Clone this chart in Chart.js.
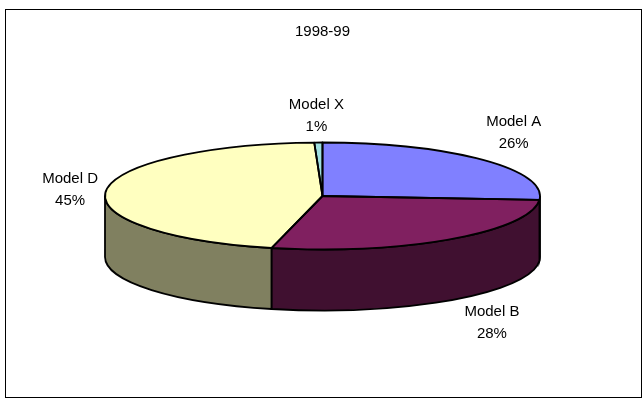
<!DOCTYPE html>
<html>
<head>
<meta charset="utf-8">
<title>1998-99</title>
<script src="https://cdn.jsdelivr.net/npm/chart.js@4"></script>
<style>
    html, body { margin: 0; padding: 0; background: #fff; }
    #box { width: 644px; height: 401px; }
</style>
</head>
<body>
<div id="box"><canvas id="pieChart" width="644" height="401"></canvas></div>
<script>
const titleText = '1998-99';
const categories = ['Model A', 'Model B', 'Model D', 'Model X'];
const shares = [26, 27.5, 45.4, 0.6];
const topColors = ['#8080FF', '#802060', '#FFFFC0', '#A0E0E0'];
const sideColors = ['#404080', '#401030', '#808060', '#507070'];
// label shift from the rim point at the middle of each slice
const labelShiftX = [32, 41, -36, -2];
const labelShiftY = [-27, 84, -1, -27];

const FONT = '15px "Liberation Sans", Arial, sans-serif';
const CENTER_Y = 196;
const SQUASH = 53.5 / 217.5;
const DEPTH = 61;

// maps a point of the flat pie to the tilted one
function tilt(ctx, arc) {
    ctx.translate(0, CENTER_Y);
    ctx.scale(1, SQUASH);
    ctx.translate(0, -arc.y);
}

function rimY(angle, r) {
    return CENTER_Y + Math.sin(angle) * r * SQUASH;
}

const tiltedPie = {
    id: 'tiltedPie',
    beforeDraw(chart) {
        const ctx = chart.ctx;
        ctx.save();
        ctx.strokeStyle = '#000';
        ctx.lineWidth = 1;
        ctx.strokeRect(5.5, 9.5, 636, 388);
        ctx.restore();
    },
    beforeDatasetsDraw(chart) {
        const ctx = chart.ctx;
        const arcs = chart.getDatasetMeta(0).data;
        ctx.save();
        ctx.lineWidth = 1.8;
        ctx.strokeStyle = '#000';
        arcs.forEach((arc, i) => {
            const from = Math.max(arc.startAngle, 0);
            const to = Math.min(arc.endAngle, Math.PI);
            if (to <= from) return;
            const r = arc.outerRadius;
            ctx.beginPath();
            ctx.save();
            tilt(ctx, arc);
            ctx.arc(arc.x, arc.y, r, from, to);
            ctx.restore();
            ctx.lineTo(arc.x + Math.cos(to) * r, rimY(to, r) + DEPTH);
            ctx.save();
            ctx.translate(0, DEPTH);
            tilt(ctx, arc);
            ctx.arc(arc.x, arc.y, r, to, from, true);
            ctx.restore();
            ctx.closePath();
            ctx.fillStyle = sideColors[i];
            ctx.fill();
            ctx.stroke();
        });
        ctx.restore();
        ctx.save();
        tilt(ctx, arcs[0]);
    },
    afterDatasetsDraw(chart) {
        const ctx = chart.ctx;
        const arcs = chart.getDatasetMeta(0).data;
        ctx.restore();

        ctx.save();
        ctx.lineWidth = 1.8;
        ctx.strokeStyle = '#000';
        ctx.lineJoin = 'round';
        arcs.forEach(arc => {
            ctx.beginPath();
            ctx.save();
            tilt(ctx, arc);
            ctx.moveTo(arc.x, arc.y);
            ctx.arc(arc.x, arc.y, arc.outerRadius, arc.startAngle, arc.endAngle);
            ctx.closePath();
            ctx.restore();
            ctx.stroke();
        });

        ctx.font = FONT;
        ctx.fillStyle = '#000';
        ctx.textAlign = 'center';
        ctx.textBaseline = 'middle';
        arcs.forEach((arc, i) => {
            const mid = (arc.startAngle + arc.endAngle) / 2;
            const x = arc.x + Math.cos(mid) * arc.outerRadius + labelShiftX[i];
            const y = rimY(mid, arc.outerRadius) + labelShiftY[i];
            ctx.fillText(categories[i], x, y - 11);
            ctx.fillText(Math.round(shares[i]) + '%', x, y + 11);
        });
        ctx.restore();
    }
};

new Chart(document.getElementById('pieChart'), {
    type: 'pie',
    data: {
        labels: categories,
        datasets: [{
            data: shares,
            backgroundColor: topColors,
            borderWidth: 0
        }]
    },
    options: {
        responsive: false,
        animation: false,
        radius: 217.5,
        layout: { padding: { left: 1 } },
        plugins: {
            legend: { display: false },
            tooltip: { enabled: false },
            title: {
                display: true,
                text: titleText,
                color: '#000',
                font: { family: '"Liberation Sans", Arial, sans-serif', size: 15, weight: 'normal' },
                padding: { top: 23, bottom: 9 }
            }
        }
    },
    plugins: [tiltedPie]
});
</script>
</body>
</html>
